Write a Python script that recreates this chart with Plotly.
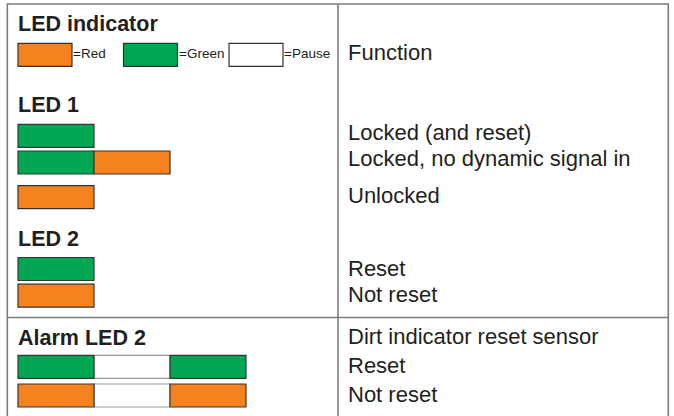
import plotly.graph_objects as go

# ---------------- data ----------------
legend_states = ["red", "green", "pause"]
legend_labels = ["=Red", "=Green", "=Pause"]
header_left = "LED indicator"
header_right = "Function"

led1_title = "LED 1"
led1_functions = ["Locked (and reset)", "Locked, no dynamic signal in", "Unlocked"]
led1_patterns = [["green"], ["green", "red"], ["red"]]

led2_title = "LED 2"
led2_functions = ["Reset", "Not reset"]
led2_patterns = [["green"], ["red"]]

alarm_title = "Alarm LED 2"
alarm_header = "Dirt indicator reset sensor"
alarm_functions = ["Reset", "Not reset"]
alarm_patterns = [["green", "pause", "green"], ["red", "pause", "red"]]

# ---------------- layout / style ----------------
W, H = 674, 416
STATE_COLORS = {"red": "#F5821F", "green": "#00A651", "pause": "#FFFFFF"}
STATE_EDGE = {"red": "#3b3333", "green": "#2f3a33", "pause": "#9a9a9a"}
TEXT_COLOR = "#231F20"
FONT = "Liberation Sans, Arial, Helvetica, sans-serif"
GRID_COLOR = "#7d7d7d"

BAR_H = 23          # px
SEG_W = 76          # px per time segment
BAR_X0 = 18         # px
N_SEG = 4
PAD_SEG = 0.1
LEFT_X = 16
RIGHT_X = 346
BODY_SIZE = 22
HEAD_SIZE = 21.5
LEG_SIZE = 13.5

legend_y = 54.8
legend_box_w = 54
legend_step = 105.5

heading_base = {"hdr": 31, "led1": 112, "led2": 246.5, "alarm": 345}
header_right_base = 60
led1_bar_y = [135.8, 162.5, 197.2]
led1_text_base = [140, 166, 203]
led2_bar_y = [269.0, 295.7]
led2_text_base = [276, 302]
alarm_bar_y = [366.8, 395.5]
alarm_header_base = 344
alarm_text_base = [373, 402]

col_split_x = 338
row_split_y = 317.5
frame = dict(x0=7.3, y0=4, x1=668.3, y1=440)


def center_from_baseline(base, size):
    return base - 0.3465 * size


fig = go.Figure()

# --- bars (segment axis x2) ---
rows_y = led1_bar_y + led2_bar_y + alarm_bar_y
rows_pat = led1_patterns + led2_patterns + alarm_patterns
for state in ["pause", "green", "red"]:
    ys, bases = [], []
    for y, pat in zip(rows_y, rows_pat):
        for k, s in enumerate(pat):
            if s == state:
                ys.append(y)
                bases.append(k)
    if ys:
        fig.add_trace(go.Bar(
            orientation="h", x=[1] * len(ys), base=bases, y=ys, width=BAR_H,
            marker=dict(color=STATE_COLORS[state],
                        line=dict(color=STATE_EDGE[state], width=1.2)),
            xaxis="x2", yaxis="y", hoverinfo="skip", showlegend=False,
        ))

# --- legend boxes (pixel axis) ---
leg_bases = [BAR_X0 + i * legend_step for i in range(len(legend_states))]
for b, s in zip(leg_bases, legend_states):
    fig.add_trace(go.Bar(
        orientation="h", x=[legend_box_w], base=[b], y=[legend_y], width=BAR_H,
        marker=dict(color=STATE_COLORS[s], line=dict(color="#333333", width=1.2)),
        xaxis="x", yaxis="y", hoverinfo="skip", showlegend=False,
    ))

ann = []


def add_text(txt, x, base, size, bold=False):
    ann.append(dict(
        text=txt, x=x, y=center_from_baseline(base, size), xref="x", yref="y",
        xanchor="left", yanchor="middle", showarrow=False,
        font=dict(family=FONT, size=size, color=TEXT_COLOR,
                  weight="bold" if bold else "normal"),
    ))


add_text(header_left, LEFT_X, heading_base["hdr"], HEAD_SIZE, True)
add_text(led1_title, LEFT_X, heading_base["led1"], HEAD_SIZE, True)
add_text(led2_title, LEFT_X, heading_base["led2"], HEAD_SIZE, True)
add_text(alarm_title, LEFT_X, heading_base["alarm"], HEAD_SIZE, True)
add_text(header_right, RIGHT_X, header_right_base, BODY_SIZE)
for t, b in zip(led1_functions, led1_text_base):
    add_text(t, RIGHT_X, b, BODY_SIZE)
for t, b in zip(led2_functions, led2_text_base):
    add_text(t, RIGHT_X, b, BODY_SIZE)
add_text(alarm_header, RIGHT_X, alarm_header_base, BODY_SIZE)
for t, b in zip(alarm_functions, alarm_text_base):
    add_text(t, RIGHT_X, b, BODY_SIZE)
for lab, b in zip(legend_labels, leg_bases):
    add_text(lab, b + legend_box_w - 1, 58.5, LEG_SIZE)

shapes = [
    dict(type="rect", xref="x", yref="y", **frame,
         line=dict(color=GRID_COLOR, width=1.6), fillcolor="rgba(0,0,0,0)", layer="below"),
    dict(type="line", xref="x", yref="y", x0=col_split_x, x1=col_split_x,
         y0=frame["y0"], y1=frame["y1"], line=dict(color=GRID_COLOR, width=1.6), layer="below"),
    dict(type="line", xref="x", yref="y", x0=frame["x0"], x1=frame["x1"],
         y0=row_split_y, y1=row_split_y, line=dict(color=GRID_COLOR, width=1.6), layer="below"),
]

x2_lo = (BAR_X0 - PAD_SEG * SEG_W) / W
x2_hi = (BAR_X0 + N_SEG * SEG_W) / W

fig.update_layout(
    width=W, height=H, autosize=False,
    margin=dict(l=0, r=0, t=0, b=0),
    paper_bgcolor="white", plot_bgcolor="rgba(0,0,0,0)",
    barmode="overlay", bargap=0,
    xaxis=dict(range=[0, W], domain=[0, 1], visible=False, fixedrange=True),
    xaxis2=dict(range=[-PAD_SEG, N_SEG], domain=[x2_lo, x2_hi], anchor="y",
                visible=False, fixedrange=True),
    yaxis=dict(range=[H, 0], domain=[0, 1], visible=False, fixedrange=True),
    annotations=ann, shapes=shapes, showlegend=False,
)

fig.write_html(
    "out.html",
    config={"displayModeBar": False, "staticPlot": True},
    post_script="document.body.style.margin='0';document.body.style.padding='0';",
)
